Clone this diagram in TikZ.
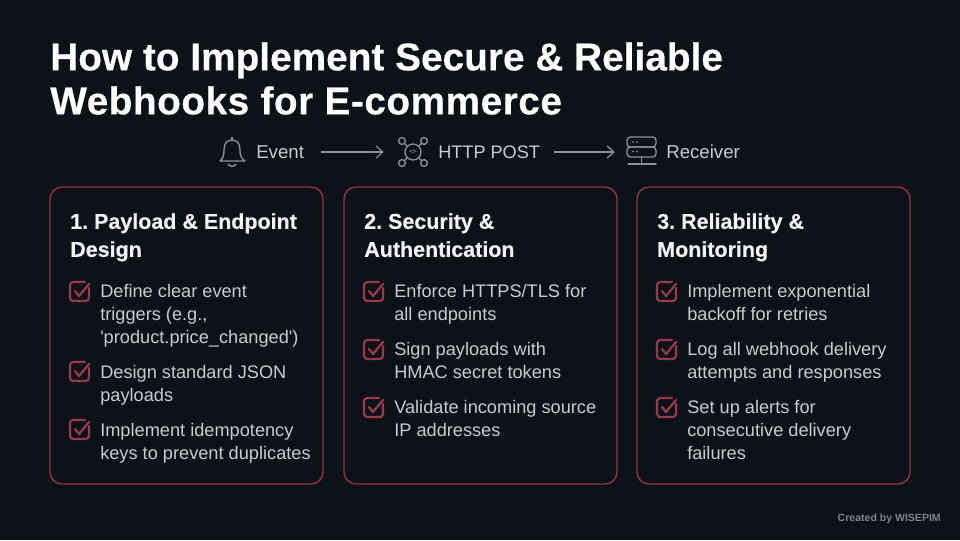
\documentclass[tikz,border=0pt]{standalone}
\usepackage{fontspec}
\setmainfont[Ligatures=TeXOff]{Liberation Sans}
\newfontfamily\heavyf[Ligatures=TeXOff,FakeBold=0.35]{Liberation Sans Bold}
\usetikzlibrary{arrows.meta}
\definecolor{bgc}{HTML}{0D1118}
\definecolor{cardline}{HTML}{8E3545}
\definecolor{checkc}{HTML}{983A4B}
\definecolor{bodyc}{HTML}{C9CBCE}
\definecolor{headc}{HTML}{F2F2F2}
\definecolor{flowc}{HTML}{8F9196}
\definecolor{credc}{HTML}{7F838A}
\tikzset{
  x=0.75pt,y=-0.75pt,
  titlet/.style={anchor=north west,inner sep=0pt,align=left,text=white,font=\fontsize{29.1pt}{33pt}\selectfont\heavyf\frenchspacing},
  headt/.style={anchor=north west,inner sep=0pt,align=left,text=headc,font=\fontsize{16.1pt}{21pt}\selectfont\heavyf\frenchspacing},
  bodyt/.style={anchor=north west,inner sep=0pt,align=left,text=bodyc,font=\fontsize{13.65pt}{17.25pt}\selectfont},
  flowt/.style={anchor=base west,inner sep=0pt,text=bodyc,font=\fontsize{14pt}{18pt}\selectfont},
  card/.style={draw=cardline,line width=1.1pt,rounded corners=9pt},
  flow/.style={draw=flowc,line width=0.9pt,-{Straight Barb[length=5pt,width=9pt,line width=0.9pt]}},
  icon/.style={draw=flowc,line width=1pt,line cap=round,line join=round},
  slot/.style={inner sep=0pt,minimum width=21pt,minimum height=21pt},
  check/.style={draw=checkc,line width=1.7pt,line cap=round,line join=round},
}
% checkbox at its top-left corner
\newcommand{\checkbox}[2]{%
  \draw[check,rounded corners=2.4pt] (#1+19,#2+5)--(#1+19,#2+18)--(#1,#2+18)--(#1,#2-1)--(#1+15,#2-1);
  \draw[check] (#1+5,#2+8)--(#1+9,#2+13)--(#1+19,#2+1);
}
\begin{document}
\begin{tikzpicture}
\useasboundingbox (0,0) rectangle (960,540);
\fill[bgc] (0,0) rectangle (960,540);

\node[titlet] (title) at (50,42) {How to Implement Secure \& Reliable\\\addfontfeature{LetterSpace=1.3}Webhooks for E-commerce};

% flow strip
\node[slot] (bell) at (232,152) {};
\node[flowt] (evt) at (256,158) {Event};
\node[slot] (net) at (413,152) {};
\node[flowt,font=\fontsize{13.6pt}{18pt}\selectfont] (post) at (438,158) {HTTP POST};
\node[slot] (srv) at (641,152) {};
\node[flowt] (recv) at (666,158) {Receiver};
\draw[flow,shorten <=17pt*0.75,shorten >=15pt*0.75] (evt.east|-bell) -- (net.west);
\draw[flow,shorten <=14pt*0.75,shorten >=12pt*0.75] (post.east|-net) -- (srv.west);

% bell
\draw[icon] (220,161) .. controls (223,158) and (224,156) .. (224,150) .. controls (224,143) and (227,140) .. (232,140) .. controls (237,140) and (240,143) .. (240,150) .. controls (240,156) and (241,158) .. (245,161) -- cycle;
\draw[icon] (232,140) -- (232,137.5);
\draw[icon] (228,164) .. controls (229,167) and (235,167) .. (236,164);

% network
\draw[icon] (413,152) circle (8);
\foreach \a/\b/\c/\d in {407/146/404.5/143.5,419/146/421.5/143.5,407/158/404.5/160.5,419/158/421.5/160.5}{\draw[icon] (\a,\b)--(\c,\d);}
\foreach \a/\b in {402/141,424/141,402/163,424/163}{\draw[icon] (\a,\b) circle (3.4);}
\node[text=flowc,inner sep=0pt,font=\fontsize{4pt}{4pt}\selectfont\bfseries] (code) at (413,152) {</>};

% server
\draw[icon,rounded corners=2.5pt] (627,137) rectangle (656,147);
\draw[icon,rounded corners=2.5pt] (627,147) rectangle (656,157);
\draw[icon] (641.5,157)--(641.5,164);
\draw[icon] (628,164)--(656,164);
\fill[flowc] (633,142) circle (1) (637,142) circle (1) (633,151.5) circle (1) (637,151.5) circle (1);

% cards
\draw[card] (50,187) rectangle (323,484);
\draw[card] (344,187) rectangle (617,484);
\draw[card] (637,187) rectangle (910,484);

\node[headt] (h1) at (70,213) {1. Payload \& Endpoint\\Design};
\node[headt] (h2) at (364,213) {2. Security \&\\Authentication};
\node[headt] (h3) at (657,213) {3. Reliability \&\\Monitoring};

\checkbox{70}{283}
\node[bodyt] (a1) at (100,284) {Define clear event\\triggers (e.g.,\\'product.price\_changed')};
\checkbox{70}{363}
\node[bodyt] (a2) at (100,365) {Design standard JSON\\payloads};
\checkbox{70}{421}
\node[bodyt] (a3) at (100,423) {Implement idempotency\\keys to prevent duplicates};

\checkbox{364}{283}
\node[bodyt] (b1) at (394,284) {Enforce HTTPS/TLS for\\all endpoints};
\checkbox{364}{341}
\node[bodyt] (b2) at (394,342) {Sign payloads with\\HMAC secret tokens};
\checkbox{364}{399}
\node[bodyt] (b3) at (394,400) {Validate incoming source\\IP addresses};

\checkbox{657}{283}
\node[bodyt] (c1) at (687,284) {Implement exponential\\backoff for retries};
\checkbox{657}{341}
\node[bodyt] (c2) at (687,342) {Log all webhook delivery\\attempts and responses};
\checkbox{657}{399}
\node[bodyt] (c3) at (687,400) {Set up alerts for\\consecutive delivery\\failures};

\node[anchor=base east,inner sep=0pt,text=credc,font=\fontsize{7.9pt}{10pt}\selectfont\bfseries] (credit) at (941,521) {Created by WISEPIM};
\end{tikzpicture}
\end{document}
